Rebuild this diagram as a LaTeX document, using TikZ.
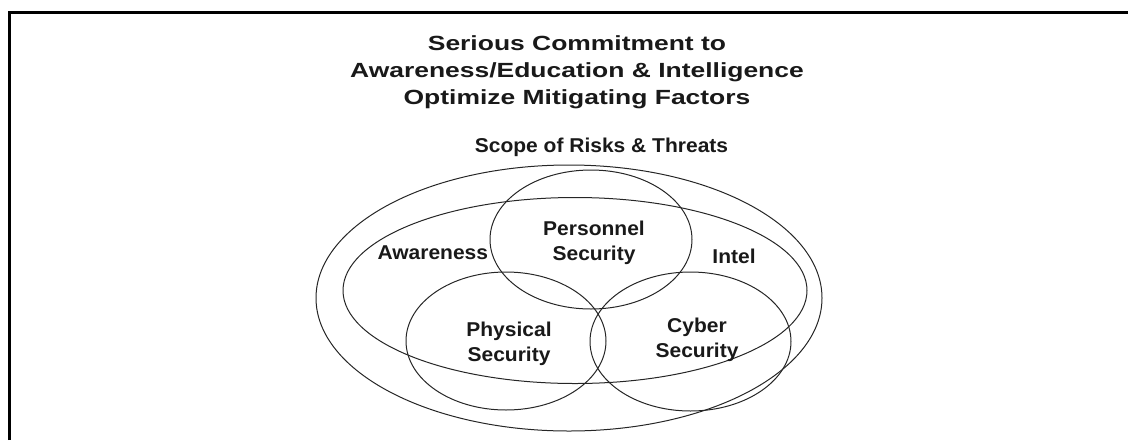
\documentclass[tikz,border=0pt]{standalone}
\usepackage{fontspec}
\usepackage{graphicx}
\setmainfont{Liberation Sans}
\newcommand\wtitle[1]{\scalebox{1.29}[1]{\begin{tabular}[t]{@{}c@{}}#1\end{tabular}}}
\newcommand\wlab[1]{\scalebox{1.05}[1]{\begin{tabular}[t]{@{}c@{}}#1\end{tabular}}}
\begin{document}
\begin{tikzpicture}[x=1pt,y=-1pt,
  ring/.style={draw=black!85,line width=1pt},
  title/.style={font=\bfseries\fontsize{20.5}{26.7}\selectfont,inner sep=0pt,text=black!90,anchor=base},
  lab/.style={font=\bfseries\fontsize{20}{25}\selectfont,inner sep=0pt,text=black!90,anchor=base}]
\useasboundingbox (0,0) rectangle (1128,440);
% frame (top and left edges)
\draw[line width=2.5pt] (9.5,440) -- (9.5,12.5) -- (1128,12.5);
% sets
\draw[ring] (569,298) ellipse [x radius=253,y radius=133];
\draw[ring] (575,290.5) ellipse [x radius=232,y radius=93];
\draw[ring] (591,239.5) ellipse [x radius=101,y radius=69.5];
\draw[ring] (506,341) ellipse [x radius=100,y radius=69];
\draw[ring] (690.5,341.5) ellipse [x radius=100.5,y radius=69.5];
% texts
\node[title] (ttl) at (577,50.7) {\wtitle{Serious Commitment to\\Awareness/Education \& Intelligence\\Optimize Mitigating Factors}};
\node[lab] (scope) at (601.5,152.3) {\wlab{Scope of Risks \& Threats}};
\node[lab] (aw) at (432.8,259) {\wlab{Awareness}};
\node[lab] (intel) at (734,263) {\wlab{Intel}};
\node[lab] (pers) at (594,235) {\wlab{Personnel\\Security}};
\node[lab] (phys) at (509,336.7) {\wlab{Physical\\Security}};
\node[lab] (cyb) at (697,332.7) {\wlab{Cyber\\Security}};
\end{tikzpicture}
\end{document}
